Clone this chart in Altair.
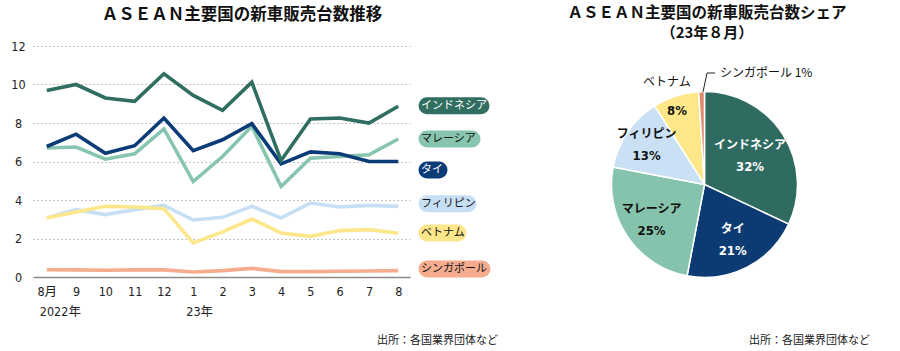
import json
import altair as alt
import pandas as pd

# ---------------- data ----------------
months = ["8月", "9", "10", "11", "12", "1", "2", "3", "4", "5", "6", "7", "8"]
year_labels = ["2022年", "23年"]
year_index = [0, 5]

countries = ["インドネシア", "マレーシア", "タイ", "フィリピン", "ベトナム", "シンガポール"]
indonesia = [9.69, 10.0, 9.30, 9.13, 10.56, 9.43, 8.66, 10.12, 6.05, 8.21, 8.26, 8.0, 8.87]
malaysia = [6.70, 6.75, 6.12, 6.40, 7.69, 4.96, 6.26, 7.83, 4.70, 6.17, 6.26, 6.35, 7.17]
thailand = [6.78, 7.42, 6.43, 6.82, 8.26, 6.56, 7.13, 7.97, 5.88, 6.50, 6.40, 6.0, 6.0]
philippines = [3.07, 3.50, 3.24, 3.50, 3.72, 2.96, 3.10, 3.67, 3.07, 3.84, 3.64, 3.72, 3.67]
vietnam = [3.07, 3.38, 3.67, 3.64, 3.55, 1.77, 2.34, 3.01, 2.29, 2.11, 2.41, 2.46, 2.27]
singapore = [0.38, 0.37, 0.35, 0.37, 0.37, 0.26, 0.33, 0.45, 0.28, 0.28, 0.30, 0.31, 0.33]
legend_level = [8.9, 7.17, 5.56, 3.8, 2.29, 0.42]

pie_names = ["インドネシア", "タイ", "マレーシア", "フィリピン", "ベトナム", "シンガポール"]
pie_share = [32, 21, 25, 13, 8, 1]

title_left = "ＡＳＥＡＮ主要国の新車販売台数推移"
title_right_1 = "ＡＳＥＡＮ主要国の新車販売台数シェア"
title_right_2 = "（23年８月）"
source_text = "出所：各国業界団体など"

# ---------------- styles ----------------
FONT = "DejaVu Sans Condensed, Liberation Sans Narrow, Noto Sans CJK JP, sans-serif"
JP = "Noto Sans CJK JP"
line_colors = {
    "インドネシア": "#306e61",
    "マレーシア": "#87c5ae",
    "タイ": "#0b3c78",
    "フィリピン": "#c7dff4",
    "ベトナム": "#fee68a",
    "シンガポール": "#f5ac8f",
}
pie_colors = ["#2f6b60", "#0c3b73", "#86c3ac", "#c9e0f5", "#fde789", "#e08a6e"]
dark = {"インドネシア", "タイ"}
pill_right = {"インドネシア": 448, "マレーシア": 439, "タイ": 406,
              "フィリピン": 435, "ベトナム": 425, "シンガポール": 449}

W, H = 377, 231
series = dict(zip(countries, [indonesia, malaysia, thailand, philippines, vietnam, singapore]))

xscale = alt.Scale(domain=[-0.47, 12.4], nice=False, zero=False)
yscale = alt.Scale(domain=[0, 12], nice=False)
label_expr = json.dumps(months, ensure_ascii=False) + "[datum.value]"

x_axis = alt.Axis(values=list(range(len(months))), labelExpr=label_expr, grid=False,
                  ticks=False, tickSize=0, domain=True, domainColor="#8a8a8a",
                  domainWidth=1.5, labelPadding=8, labelFontSize=12.5,
                  labelOverlap=False, labelSeparation=0, labelFont=FONT,
                  labelColor="#222", labelAngle=0, title=None)
y_axis = alt.Axis(values=[0, 2, 4, 6, 8, 10, 12], grid=True, gridDash=[1.5, 2.5],
                  gridColor="#b0b0b0", gridWidth=1, domain=False, ticks=False,
                  tickSize=0, labelPadding=15, labelAlign="center",
                  labelOverlap=False, labelFontSize=12.5, labelFont=FONT,
                  labelColor="#222", title=None)


def X(field="i:Q"):
    return alt.X(field, scale=xscale, axis=x_axis)


def Y(field="v:Q"):
    return alt.Y(field, scale=yscale, axis=y_axis)


layers = []

draw_order = ["シンガポール", "フィリピン", "ベトナム", "マレーシア", "タイ", "インドネシア"]
for name in draw_order:
    df = pd.DataFrame({"i": list(range(len(months))), "v": series[name]})
    layers.append(
        alt.Chart(df).mark_line(color=line_colors[name], strokeWidth=3.6).encode(x=X(), y=Y())
    )

# legend pills
for name, lvl in zip(countries, legend_level):
    d = pd.DataFrame({"t": [name], "v": [lvl]})
    layers.append(
        alt.Chart(d).mark_rule(color=line_colors[name], strokeWidth=17, strokeCap="round").encode(
            x=alt.value(394), x2=alt.value(pill_right[name]), y=Y()
        )
    )
    layers.append(
        alt.Chart(d).mark_text(align="left", baseline="middle", font=JP, fontSize=11,
                               color="white" if name in dark else "#111").encode(
            x=alt.value(388), y=Y(), text="t:N"
        )
    )

# year labels under the axis
ydf = pd.DataFrame({"i": year_index, "t": year_labels})
layers.append(
    alt.Chart(ydf).mark_text(align="left", baseline="middle", dx=-7, font=FONT,
                             fontSize=12.5, color="#222").encode(
        x=X(), y=alt.value(266), text="t:N"
    )
)

# ---------------- pie ----------------
CX, CY, R = 671.5, 138.5, 93
TOTAL = sum(pie_share)
pie_df = pd.DataFrame({
    "name": pie_names,
    "share": pie_share,
    "ord": list(range(len(pie_names))),
})
pie_df["pct"] = pie_df["share"].astype(str) + "%"
inside = {"インドネシア": 54, "タイ": 62, "マレーシア": 64, "フィリピン": 70}
pie_df["lab_name"] = [n if n in inside else "" for n in pie_names]
pie_df["lab_pct"] = [p if (n in inside or n == "ベトナム") else ""
                     for n, p in zip(pie_names, pie_df["pct"])]
pie_df["r_in"] = [inside.get(n, 89) for n in pie_names]
pie_df["lab_vn"] = [n if n == "ベトナム" else "" for n in pie_names]
pie_df["r_vn"] = [96 for _ in pie_names]

theta_scale = alt.Scale(domain=[0, TOTAL])
txt_color = alt.condition(alt.FieldOneOfPredicate(field="name", oneOf=sorted(dark)),
                          alt.value("white"), alt.value("#111"))

layers.append(
    alt.Chart(pie_df).mark_arc(outerRadius=R, stroke="white", strokeWidth=1.5).encode(
        theta=alt.Theta("share:Q", stack=True, scale=theta_scale),
        order=alt.Order("ord:Q"),
        color=alt.Color("name:N", scale=alt.Scale(domain=pie_names, range=pie_colors), legend=None),
        x=alt.value(CX), y=alt.value(CY),
    )
)

label_base = alt.Chart(pie_df).transform_window(
    cum="sum(share)", sort=[alt.SortField("ord", order="ascending")], frame=[None, 0]
).transform_calculate(mid="datum.cum - datum.share / 2")

mid_theta = alt.Theta("mid:Q", stack=False, scale=theta_scale)

layers.append(
    label_base.mark_text(font=JP, fontSize=12, fontWeight="bold", dy=-11).encode(
        theta=mid_theta, radius=alt.Radius("r_in:Q", scale=None),
        text="lab_name:N", color=txt_color, x=alt.value(CX), y=alt.value(CY),
    )
)
layers.append(
    label_base.mark_text(font=FONT, fontSize=13, fontWeight="bold", dy=11).encode(
        theta=mid_theta, radius=alt.Radius("r_in:Q", scale=None),
        text="lab_pct:N", color=txt_color, x=alt.value(CX), y=alt.value(CY),
    )
)
layers.append(
    label_base.mark_text(font=JP, fontSize=12, dy=-11, dx=-8, color="#111").encode(
        theta=mid_theta, radius=alt.Radius("r_vn:Q", scale=None),
        text="lab_vn:N", x=alt.value(CX), y=alt.value(CY),
    )
)

# Singapore callout
sg = pd.DataFrame({"t": [pie_names[-1] + "  " + str(pie_share[-1]) + "%"]})
layers.append(
    alt.Chart(sg).mark_rule(color="#222", strokeWidth=1).encode(
        x=alt.value(670), y=alt.value(46), x2=alt.value(674), y2=alt.value(27)
    )
)
layers.append(
    alt.Chart(sg).mark_rule(color="#222", strokeWidth=1).encode(
        x=alt.value(674), y=alt.value(27), x2=alt.value(682), y2=alt.value(27)
    )
)
layers.append(
    alt.Chart(sg).mark_text(align="left", baseline="middle", font=JP, fontSize=12,
                            color="#111").encode(x=alt.value(687), y=alt.value(27), text="t:N")
)

# ---------------- titles & sources ----------------
def text_layer(t, x, y, **kw):
    d = pd.DataFrame({"t": [t]})
    return alt.Chart(d).mark_text(**kw).encode(x=alt.value(x), y=alt.value(y), text="t:N")

layers.append(text_layer(title_left, 209, -31, font=JP, fontSize=16.5, fontWeight="bold",
                         color="#111", align="center", baseline="middle"))
layers.append(text_layer(title_right_1, 674, -33, font=JP, fontSize=15.5, fontWeight="bold",
                         color="#111", align="center", baseline="middle"))
layers.append(text_layer(title_right_2, 674, -13, font=JP, fontSize=15, fontWeight="bold",
                         color="#111", align="center", baseline="middle"))
layers.append(text_layer(source_text, 465, 295, font=JP, fontSize=11, color="#222",
                         align="right", baseline="middle"))
layers.append(text_layer(source_text, 837, 295, font=JP, fontSize=11, color="#222",
                         align="right", baseline="middle"))

chart = alt.layer(*layers).properties(
    width=W, height=H,
    autosize=alt.AutoSizeParams(type="none"),
    padding={"left": 33, "top": 46, "right": 900 - 33 - W, "bottom": 351 - 46 - H},
    background="white",
).configure_view(stroke=None)

chart.save("out.html", embed_options={"renderer": "svg", "actions": False})
